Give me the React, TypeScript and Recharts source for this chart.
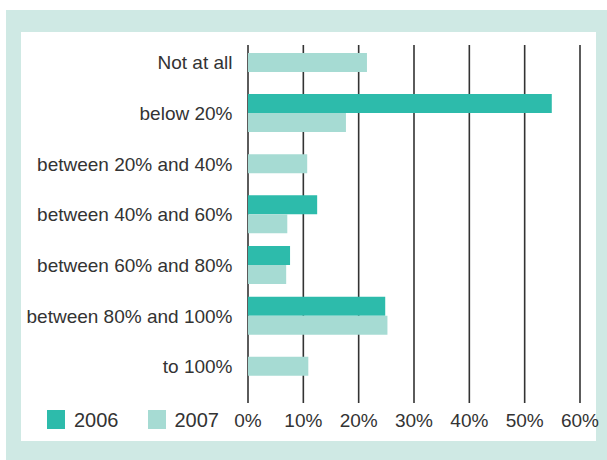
import React from 'react';
import { BarChart, Bar, XAxis, YAxis, CartesianGrid, Legend, Rectangle } from 'recharts';

const categories = [
  'Not at all',
  'below 20%',
  'between 20% and 40%',
  'between 40% and 60%',
  'between 60% and 80%',
  'between 80% and 100%',
  'to 100%',
];
const values2006: (number | null)[] = [null, 54.9, null, 12.5, 7.6, 24.8, null];
const values2007: (number | null)[] = [21.5, 17.7, 10.7, 7.1, 6.9, 25.2, 10.9];
const xTicks = [0, 10, 20, 30, 40, 50, 60];

const data = categories.map((c, i) => ({ name: c, y2006: values2006[i], y2007: values2007[i] }));

const C2006 = '#2dbbab';
const C2007 = '#a6dbd3';
const FRAME = '#cfe9e4';
const TEXT = '#333333';
const FONT = '"Liberation Sans", Arial, sans-serif';

const Shape2007 = (props: any) => {
  const { x, y, width, height, fill, payload } = props;
  const solo = payload && payload.y2006 == null;
  const yy = solo ? y - height / 2 : y;
  return <Rectangle x={x} y={yy} width={width} height={height} fill={fill} />;
};

const LegendContent = (props: any) => {
  const { payload } = props;
  return (
    <div style={{ display: 'flex', alignItems: 'flex-start', fontFamily: FONT }}>
      {(payload || []).map((p: any, i: number) => (
        <div key={i} style={{ display: 'flex', alignItems: 'flex-start', marginRight: i === 0 ? 29 : 0 }}>
          <div style={{ width: 18, height: 19, background: p.color }} />
          <span style={{ marginLeft: 9, fontSize: 20, lineHeight: '20px', color: TEXT }}>{p.value}</span>
        </div>
      ))}
    </div>
  );
};

export default function App() {
  return (
    <div style={{ position: 'absolute', left: 0, top: 0, width: 607, height: 460, overflow: 'hidden', background: '#ffffff' }}>
      <div style={{ position: 'absolute', left: 6, top: 10, width: 601, height: 450, background: FRAME }} />
      <div style={{ position: 'absolute', left: 21, top: 32, width: 575, height: 409, background: '#ffffff' }} />
      <div style={{ position: 'absolute', left: 0, top: 0 }}>
        <BarChart
          width={607}
          height={460}
          data={data}
          layout="vertical"
          margin={{ top: 37.4, right: 27, bottom: 0, left: 0 }}
          barSize={19}
          barGap={0}
          style={{ fontFamily: FONT }}
        >
          <CartesianGrid horizontal={false} vertical stroke="#333333" strokeWidth={1.6} y={45} height={358} />
          <XAxis
            type="number"
            domain={[0, 60]}
            ticks={xTicks}
            tickFormatter={(v: number) => `${v}%`}
            axisLine={false}
            tickLine={false}
            tickSize={0}
            tickMargin={22}
            height={68}
            interval={0}
            tick={{ fontSize: 19, fill: TEXT, fontFamily: FONT }}
          />
          <YAxis
            type="category"
            dataKey="name"
            axisLine={false}
            tickLine={false}
            tickSize={0}
            tickMargin={15.5}
            width={248}
            interval={0}
            tick={{ fontSize: 19, fill: TEXT, fontFamily: FONT }}
          />
          <Legend
            layout="horizontal"
            align="center"
            verticalAlign="middle"
            content={<LegendContent />}
            wrapperStyle={{ position: 'absolute', left: 47, top: 410, width: 220, height: 20 }}
          />
          <Bar dataKey="y2006" name="2006" fill={C2006} isAnimationActive={false} />
          <Bar dataKey="y2007" name="2007" fill={C2007} isAnimationActive={false} shape={<Shape2007 />} />
        </BarChart>
      </div>
    </div>
  );
}
